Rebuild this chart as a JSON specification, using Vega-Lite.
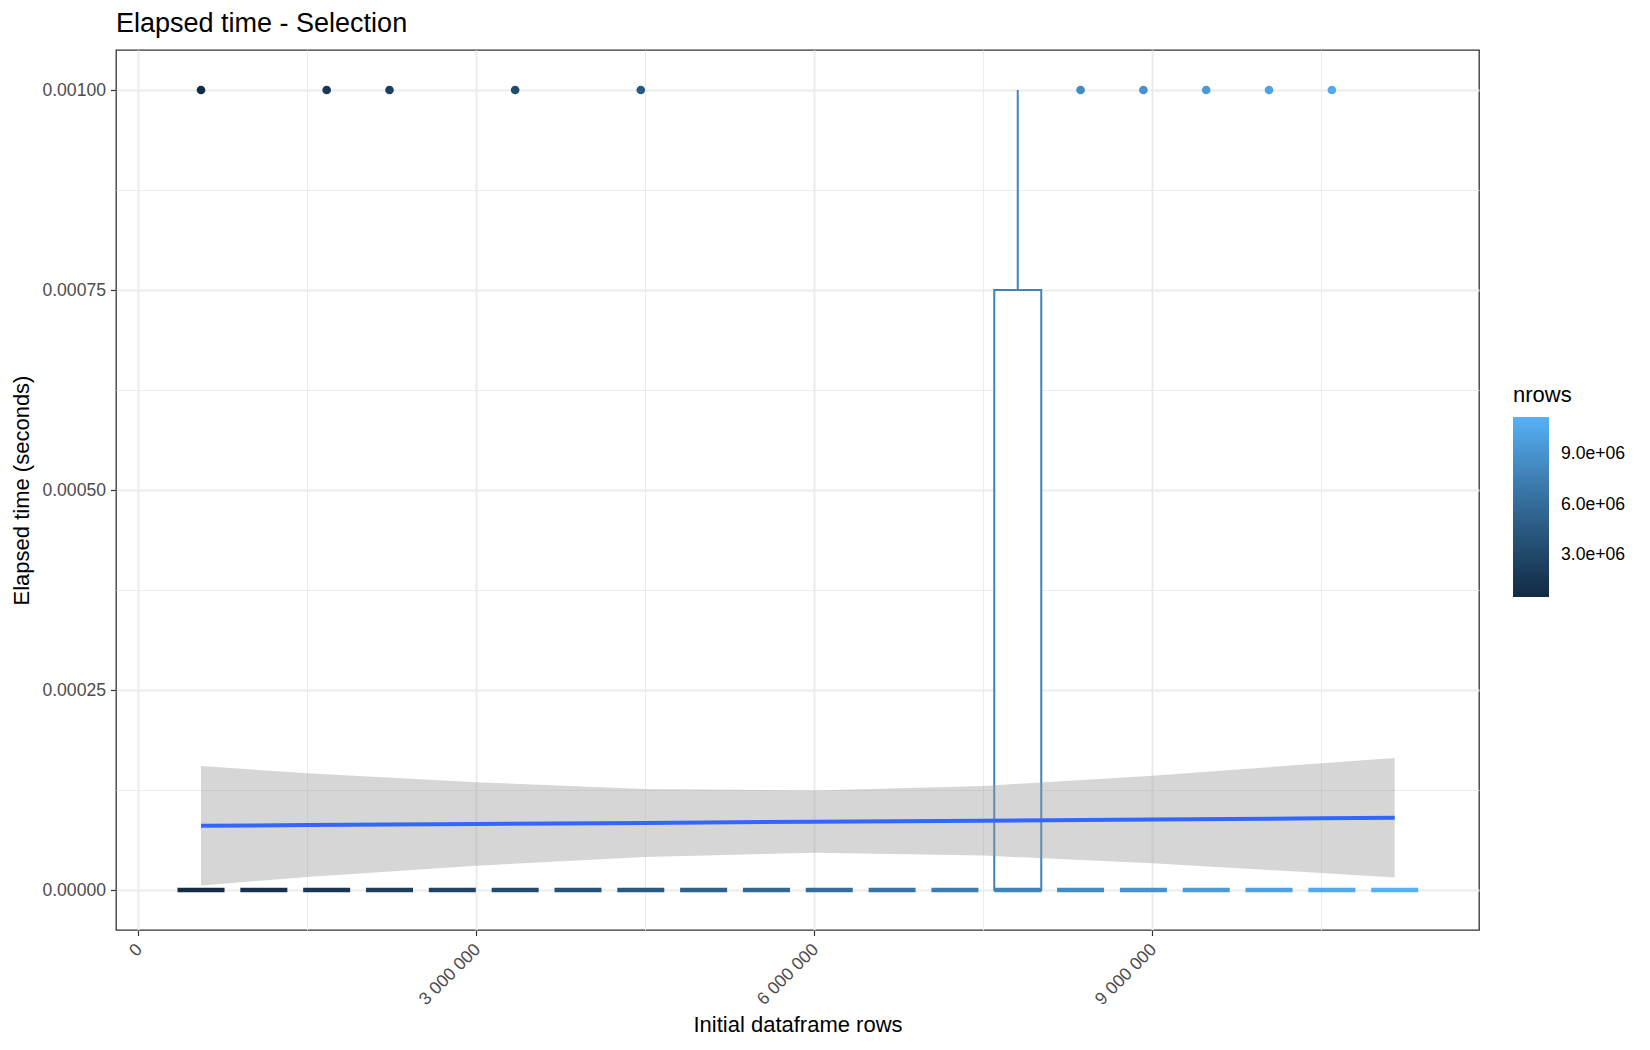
{
  "$schema": "https://vega.github.io/schema/vega-lite/v6.json",
  "width": 1363,
  "height": 880,
  "autosize": {"type": "none"},
  "padding": {"left": 116, "top": 50, "right": 171, "bottom": 120},
  "background": "white",
  "title": {"text": "Elapsed time - Selection", "anchor": "start", "frame": "group", "offset": 12, "fontSize": 27, "fontWeight": "normal", "color": "#000000", "font": "Liberation Sans"},
  "config": {
    "font": "Liberation Sans",
    "view": {"stroke": "#333333", "strokeWidth": 1.3},
    "axis": {"labelFont": "Liberation Sans", "titleFont": "Liberation Sans"},
    "legend": {"labelFont": "Liberation Sans", "titleFont": "Liberation Sans"}
  },
  "datasets": {
    "boxes": [
      {"nrows": 557500, "q1": 0, "median": 0, "q3": 0, "upper": 0},
      {"nrows": 1115000, "q1": 0, "median": 0, "q3": 0, "upper": 0},
      {"nrows": 1672500, "q1": 0, "median": 0, "q3": 0, "upper": 0},
      {"nrows": 2230000, "q1": 0, "median": 0, "q3": 0, "upper": 0},
      {"nrows": 2787500, "q1": 0, "median": 0, "q3": 0, "upper": 0},
      {"nrows": 3345000, "q1": 0, "median": 0, "q3": 0, "upper": 0},
      {"nrows": 3902500, "q1": 0, "median": 0, "q3": 0, "upper": 0},
      {"nrows": 4460000, "q1": 0, "median": 0, "q3": 0, "upper": 0},
      {"nrows": 5017500, "q1": 0, "median": 0, "q3": 0, "upper": 0},
      {"nrows": 5575000, "q1": 0, "median": 0, "q3": 0, "upper": 0},
      {"nrows": 6132500, "q1": 0, "median": 0, "q3": 0, "upper": 0},
      {"nrows": 6690000, "q1": 0, "median": 0, "q3": 0, "upper": 0},
      {"nrows": 7247500, "q1": 0, "median": 0, "q3": 0, "upper": 0},
      {"nrows": 7805000, "q1": 0, "median": 0, "q3": 0.00075, "upper": 0.001},
      {"nrows": 8362500, "q1": 0, "median": 0, "q3": 0, "upper": 0},
      {"nrows": 8920000, "q1": 0, "median": 0, "q3": 0, "upper": 0},
      {"nrows": 9477500, "q1": 0, "median": 0, "q3": 0, "upper": 0},
      {"nrows": 10035000, "q1": 0, "median": 0, "q3": 0, "upper": 0},
      {"nrows": 10592500, "q1": 0, "median": 0, "q3": 0, "upper": 0},
      {"nrows": 11150000, "q1": 0, "median": 0, "q3": 0, "upper": 0}
    ],
    "outliers": [
      {"nrows": 557500, "time": 0.001},
      {"nrows": 1672500, "time": 0.001},
      {"nrows": 2230000, "time": 0.001},
      {"nrows": 3345000, "time": 0.001},
      {"nrows": 4460000, "time": 0.001},
      {"nrows": 8362500, "time": 0.001},
      {"nrows": 8920000, "time": 0.001},
      {"nrows": 9477500, "time": 0.001},
      {"nrows": 10035000, "time": 0.001},
      {"nrows": 10592500, "time": 0.001}
    ],
    "smooth": [
      {"nrows": 557500, "fit": 0.0000802, "lo": 0.0000057, "hi": 0.0001550},
      {"nrows": 1500000, "fit": 0.0000811, "lo": 0.0000162, "hi": 0.0001459},
      {"nrows": 3000000, "fit": 0.0000825, "lo": 0.0000303, "hi": 0.0001347},
      {"nrows": 4500000, "fit": 0.0000839, "lo": 0.0000412, "hi": 0.0001263},
      {"nrows": 6000000, "fit": 0.0000853, "lo": 0.0000465, "hi": 0.0001245},
      {"nrows": 7500000, "fit": 0.0000867, "lo": 0.0000430, "hi": 0.0001301},
      {"nrows": 9000000, "fit": 0.0000882, "lo": 0.0000335, "hi": 0.0001429},
      {"nrows": 10500000, "fit": 0.0000896, "lo": 0.0000212, "hi": 0.0001584},
      {"nrows": 11150000, "fit": 0.0000902, "lo": 0.0000157, "hi": 0.0001650}
    ]
  },
  "resolve": {"axis": {"x": "independent", "y": "independent"}},
  "layer": [
    {
      "data": {"name": "boxes"},
      "transform": [{"filter": "datum.q3 > datum.q1"}],
      "mark": {"type": "bar", "size": 47, "fill": "white", "strokeWidth": 2},
      "encoding": {
        "x": {"field": "nrows", "type": "quantitative",
          "scale": {"domain": [-197000, 11898000], "nice": false, "zero": false, "padding": 0},
          "axis": {"orient": "bottom", "values": [0, 3000000, 6000000, 9000000], "title": "Initial dataframe rows",
            "grid": true, "gridColor": "#EBEBEB", "gridWidth": 2, "domain": false,
            "ticks": true, "tickColor": "#333333", "tickSize": 5.5, "tickWidth": 1.2,
            "labelExpr": "replace(replace(format(datum.value, ','), ',', ' '), ',', ' ')",
            "labelAngle": -45, "labelAlign": "right", "labelBaseline": "middle", "labelPadding": 11, "labelOffset": 1,
            "labelFontSize": 17.6, "labelColor": "#4D4D4D", "labelFlush": false, "labelOverlap": false,
            "titleFontSize": 22, "titleFontWeight": "normal", "titleColor": "#000000", "titlePadding": 7}},
        "y": {"field": "q1", "type": "quantitative",
          "scale": {"domain": [-0.00005, 0.00105], "nice": false, "zero": false, "padding": 0},
          "axis": {"orient": "left", "values": [0, 0.00025, 0.0005, 0.00075, 0.001], "title": "Elapsed time (seconds)",
            "format": ".5f", "grid": true, "gridColor": "#EBEBEB", "gridWidth": 2, "domain": false,
            "ticks": true, "tickColor": "#333333", "tickSize": 5.5, "tickWidth": 1.2, "labelPadding": 5,
            "labelFontSize": 17.6, "labelColor": "#4D4D4D", "labelFlush": false, "labelOverlap": false,
            "titleFontSize": 22, "titleFontWeight": "normal", "titleColor": "#000000", "titlePadding": 8}},
        "y2": {"field": "q3"},
        "stroke": {"field": "nrows", "type": "quantitative",
          "scale": {"domain": [557499, 11150000], "range": ["#132B43", "#56B1F7"], "interpolate": "lab"},
          "legend": null}
      }
    },
    {
      "data": {"name": "boxes"},
      "transform": [{"filter": "datum.upper > datum.q3"}],
      "mark": {"type": "rule", "strokeWidth": 2},
      "encoding": {
        "x": {"field": "nrows", "type": "quantitative", "axis": null},
        "y": {"field": "q3", "type": "quantitative", "axis": null},
        "y2": {"field": "upper"},
        "stroke": {"field": "nrows", "type": "quantitative",
          "scale": {"domain": [557499, 11150000], "range": ["#132B43", "#56B1F7"], "interpolate": "lab"},
          "legend": null}
      }
    },
    {
      "data": {"name": "boxes"},
      "mark": {"type": "tick", "orient": "horizontal", "size": 47, "thickness": 4.3, "opacity": 1},
      "encoding": {
        "x": {"field": "nrows", "type": "quantitative", "axis": null},
        "y": {"field": "median", "type": "quantitative", "axis": null},
        "color": {"field": "nrows", "type": "quantitative",
          "scale": {"domain": [557500, 11150000], "range": ["#132B43", "#56B1F7"], "interpolate": "lab"},
          "legend": {"type": "gradient", "title": "nrows", "orient": "none", "legendX": 1397, "legendY": 335, "padding": 0,
            "direction": "vertical", "gradientLength": 180, "gradientThickness": 36, "gradientStrokeWidth": 0,
            "values": [3000000, 6000000, 9000000],
            "labelExpr": "replace(format(datum.value, '.1e'), 'e+', 'e+0')",
            "labelFontSize": 17.6, "labelColor": "#000000", "labelOffset": 12,
            "titleFontSize": 22, "titleFontWeight": "normal", "titleColor": "#000000", "titlePadding": 10}}
      }
    },
    {
      "data": {"name": "outliers"},
      "mark": {"type": "circle", "size": 75, "opacity": 1},
      "encoding": {
        "x": {"field": "nrows", "type": "quantitative", "axis": null},
        "y": {"field": "time", "type": "quantitative", "axis": null},
        "color": {"field": "nrows", "type": "quantitative",
          "scale": {"domain": [557500, 11150000], "range": ["#132B43", "#56B1F7"], "interpolate": "lab"},
          "legend": {"type": "gradient", "title": "nrows", "orient": "none", "legendX": 1397, "legendY": 335, "padding": 0,
            "direction": "vertical", "gradientLength": 180, "gradientThickness": 36, "gradientStrokeWidth": 0,
            "values": [3000000, 6000000, 9000000],
            "labelExpr": "replace(format(datum.value, '.1e'), 'e+', 'e+0')",
            "labelFontSize": 17.6, "labelColor": "#000000", "labelOffset": 12,
            "titleFontSize": 22, "titleFontWeight": "normal", "titleColor": "#000000", "titlePadding": 10}}
      }
    },
    {
      "data": {"name": "smooth"},
      "mark": {"type": "area", "orient": "vertical", "fill": "#999999", "opacity": 0.4},
      "encoding": {
        "x": {"field": "nrows", "type": "quantitative",
          "axis": {"orient": "bottom", "values": [1500000, 4500000, 7500000, 10500000], "labels": false, "ticks": false,
            "domain": false, "grid": true, "gridColor": "#EBEBEB", "gridWidth": 1, "title": null}},
        "y": {"field": "lo", "type": "quantitative",
          "axis": {"orient": "left", "values": [0.000125, 0.000375, 0.000625, 0.000875], "labels": false, "ticks": false,
            "domain": false, "grid": true, "gridColor": "#EBEBEB", "gridWidth": 1, "title": null}},
        "y2": {"field": "hi"}
      }
    },
    {
      "data": {"name": "smooth"},
      "mark": {"type": "line", "color": "#3366FF", "strokeWidth": 4, "strokeCap": "butt"},
      "encoding": {
        "x": {"field": "nrows", "type": "quantitative", "axis": null},
        "y": {"field": "fit", "type": "quantitative", "axis": null}
      }
    }
  ]
}
